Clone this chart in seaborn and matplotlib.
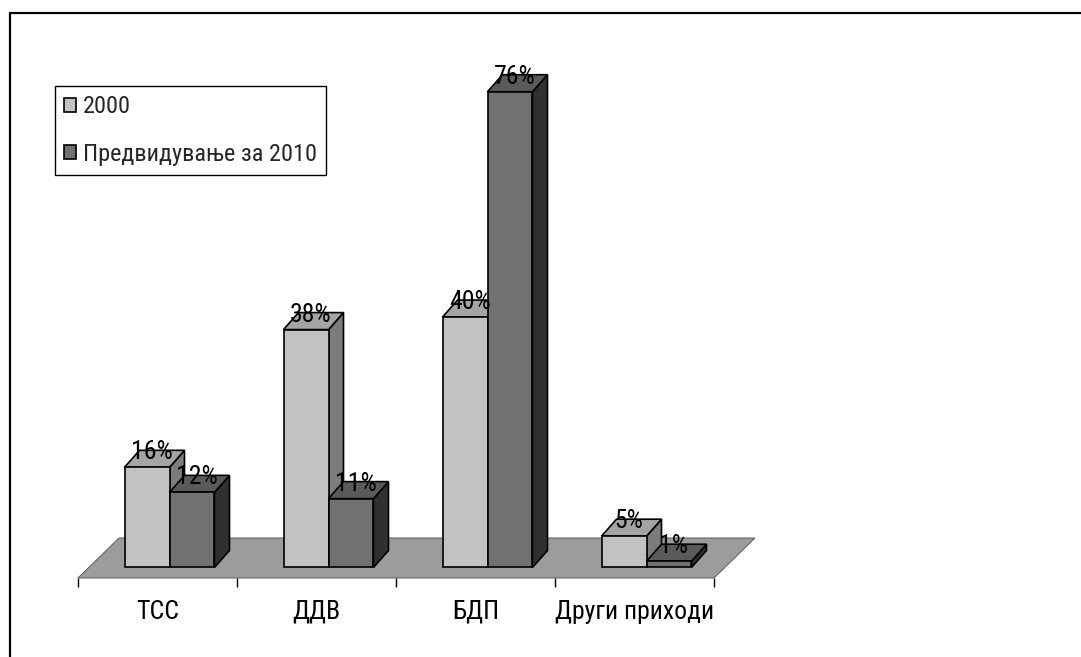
import matplotlib
matplotlib.use("Agg")
import matplotlib.pyplot as plt
from matplotlib import font_manager
from matplotlib.patches import Polygon, Patch
from matplotlib.lines import Line2D
import seaborn as sns
import pandas as pd

# ---- data -------------------------------------------------------------
categories = ["ТСС", "ДДВ", "БДП", "Други приходи"]
series_names = ["2000", "Предвидување за 2010"]
values_2000 = [16, 38, 40, 5]
values_2010 = [12, 11, 76, 1]

# ---- style ------------------------------------------------------------
sns.set_theme(style="white")
installed = {f.name for f in font_manager.fontManager.ttflist}
narrow = [f for f in ["Liberation Sans Narrow", "Arial Narrow", "Roboto Condensed",
                      "Open Sans Condensed", "DejaVu Sans Condensed"] if f in installed]
family = narrow + [f for f in ["Liberation Sans", "DejaVu Sans"] if f in installed]
plt.rcParams["font.family"] = family
FS = 18.5 if narrow else 17
LEG_FS = 17.5 if narrow else 16

front_colors = {series_names[0]: "#c2c2c2", series_names[1]: "#717171"}
top_colors = {series_names[0]: "#a4a4a4", series_names[1]: "#5a5a5a"}
side_colors = {series_names[0]: "#7c7c7c", series_names[1]: "#303030"}
floor_color = "#9c9c9c"

W, H = 1081, 657
fig = plt.figure(figsize=(W / 100, H / 100), dpi=100)
ax_l, ax_b, ax_w, ax_h = 78, 578, 636, 548          # axes box in pixels (left, bottom-from-top, w, h)
ax = fig.add_axes([ax_l / W, 1 - ax_b / H, ax_w / W, ax_h / H])

df = pd.DataFrame({
    "category": categories * 2,
    "series": [series_names[0]] * len(categories) + [series_names[1]] * len(categories),
    "value": values_2000 + values_2010,
})

sns.barplot(data=df, x="category", y="value", hue="series",
            order=categories, hue_order=series_names, palette=front_colors,
            width=0.566, gap=0, saturation=1, errorbar=None,
            edgecolor="black", linewidth=1.2, legend=False, ax=ax)

xlo, xhi = -0.5, 3.5
ylo, yhi = -1.68, 85.86
ax.set_xlim(xlo, xhi)
ax.set_ylim(ylo, yhi)
px_x = (xhi - xlo) / ax_w      # data units per pixel
px_y = (yhi - ylo) / ax_h

# ---- floor ------------------------------------------------------------
fdx, fdy = 41 * px_x, 40 * px_y
floor = Polygon([(xlo, ylo), (xhi, ylo), (xhi + fdx, ylo + fdy), (xlo + fdx, ylo + fdy)],
                closed=True, facecolor=floor_color, edgecolor="#5a5a5a",
                linewidth=0.7, zorder=1, clip_on=False)
ax.add_patch(floor)

# ---- 3D faces for every bar ------------------------------------------
shift = 12 * px_x
bdx, bdy = 15 * px_x, 17 * px_y
bars = []
for name, cont in zip(series_names, ax.containers):
    for rect, val in zip(cont.patches, cont.datavalues):
        rect.set_x(rect.get_x() + shift)
        bars.append((rect, name, val))
bars.sort(key=lambda b: b[0].get_x())

for k, (rect, name, val) in enumerate(bars):
    z = 3 + k * 0.1
    x0 = rect.get_x()
    x1 = x0 + rect.get_width()
    y0 = rect.get_y()
    y1 = y0 + rect.get_height()
    side = Polygon([(x1, y0), (x1 + bdx, y0 + bdy), (x1 + bdx, y1 + bdy), (x1, y1)],
                   closed=True, facecolor=side_colors[name], edgecolor="black",
                   linewidth=1.2, zorder=z, clip_on=False)
    top = Polygon([(x0, y1), (x1, y1), (x1 + bdx, y1 + bdy), (x0 + bdx, y1 + bdy)],
                  closed=True, facecolor=top_colors[name], edgecolor="black",
                  linewidth=1.2, zorder=z, clip_on=False)
    ax.add_patch(side)
    ax.add_patch(top)
    rect.set_zorder(z + 0.01)
    rect.set_clip_on(False)
    ax.annotate(f"{val:g}%", xy=((x0 + x1) / 2, y1), xytext=(5, 15),
                textcoords="offset pixels", ha="center", va="center",
                fontsize=FS, color="black", zorder=10)

# ---- axes -------------------------------------------------------------
for sp in ax.spines.values():
    sp.set_visible(False)
ax.set_yticks([])
ax.set_xlabel("")
ax.set_ylabel("")
ax.set_xticks(range(len(categories)))
ax.set_xticklabels(categories, fontsize=FS)
ax.set_xticks([i - 0.5 for i in range(len(categories) + 1)], minor=True)
ax.tick_params(axis="x", which="major", length=0, pad=15.5, colors="black")
ax.tick_params(axis="x", which="minor", bottom=True, length=6.5, width=1, color="black")
ax.set_facecolor("none")

# ---- legend -----------------------------------------------------------
handles = [Patch(facecolor=front_colors[n], edgecolor="black", linewidth=1.2) for n in series_names]
leg = ax.legend(handles, series_names, loc="upper left",
                bbox_to_anchor=(55 / W, 1 - 86 / H), bbox_transform=fig.transFigure,
                borderaxespad=0, frameon=True, fancybox=False, shadow=False,
                edgecolor="black", framealpha=1, fontsize=LEG_FS,
                handlelength=0.5, handleheight=0.5, handletextpad=0.28,
                labelspacing=1.0, borderpad=0.38)
leg.get_frame().set_linewidth(1.0)

# ---- outer frame ------------------------------------------------------
fig.add_artist(Line2D([10 / W, 1], [1 - 13 / H, 1 - 13 / H], color="black", linewidth=1.6,
                      transform=fig.transFigure))
fig.add_artist(Line2D([10 / W, 10 / W], [1 - 13 / H, 0], color="black", linewidth=1.6,
                      transform=fig.transFigure))

fig.savefig("out.png", dpi=100, facecolor="white")
